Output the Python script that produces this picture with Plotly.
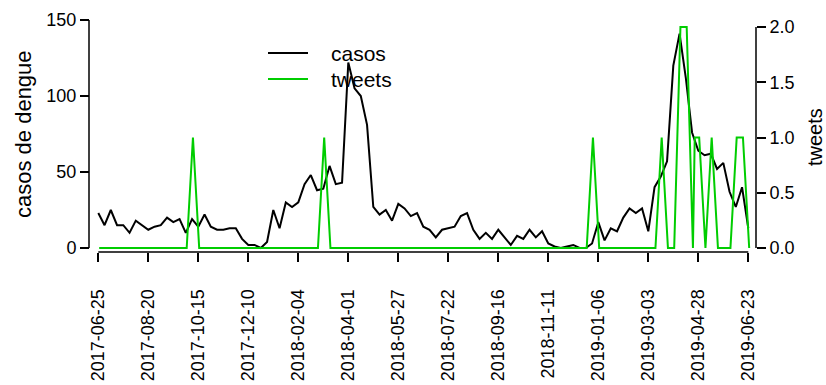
import pandas as pd
import plotly.graph_objects as go

# weekly dengue cases (Sundays, 2017-06-25 .. 2019-06-23)
casos = [23, 15, 25, 15, 15, 10, 18, 15, 12, 14,
         15, 20, 17, 19, 10, 19, 14, 22, 14, 12,
         12, 13, 13, 6, 2, 2, 0, 4, 25, 13,
         30, 27, 30, 42, 48, 38, 39, 54, 42, 43,
         122, 105, 100, 81, 27, 22, 25, 18, 29, 26,
         21, 23, 14, 12, 7, 12, 13, 14, 21, 23,
         12, 6, 10, 6, 12, 7, 2, 8, 6, 12,
         7, 11, 3, 1, 0, 1, 2, 0, 0, 3,
         17, 5, 13, 11, 20, 26, 23, 26, 11, 40,
         47, 57, 120, 141, 112, 76, 64, 61, 62, 52,
         56, 37, 27, 40, 13]
casos_dates = pd.date_range("2017-06-25", periods=len(casos), freq="7D")

# weekly tweets (Mondays) plus one extra mid-week count
tweets_weekly = [0] * 105
for k, v in {15: 1, 36: 1, 79: 1, 90: 1, 93: 2, 94: 2, 96: 1, 98: 1, 102: 1, 103: 1}.items():
    tweets_weekly[k] = v
tweet_dates = list(pd.date_range("2017-06-26", periods=105, freq="7D"))
tweets = list(tweets_weekly)
tweet_dates.insert(96, pd.Timestamp("2019-04-24"))
tweets.insert(96, 1)

tick_labels = ["2017-06-25", "2017-08-20", "2017-10-15", "2017-12-10",
               "2018-02-04", "2018-04-01", "2018-05-27", "2018-07-22",
               "2018-09-16", "2018-11-11", "2019-01-06", "2019-03-03",
               "2019-04-28", "2019-06-23"]

FONT = "Liberation Sans, Arial, Helvetica, sans-serif"
GREEN = "#00CD00"
W, H = 826, 385
L, R, T, B = 89, 70, 20, 133
plot_w = W - L - R
plot_h = H - T - B

# pixel layout of the x axis (first/last tick positions)
x_first, x_last = 98.3, 748.3
d0, d1 = pd.Timestamp(tick_labels[0]), pd.Timestamp(tick_labels[-1])
ppd = (x_last - x_first) / (d1 - d0).days
xr0 = d0 - pd.Timedelta(days=(x_first - L) / ppd)
xr1 = d1 + pd.Timedelta(days=(W - R - x_last) / ppd)

# vertical scales: 0 sits 4 px above the x axis line
y_zero_px = 248
gap = H - B - y_zero_px
y_ppu = (y_zero_px - T) / 150
y2_ppu = 110.5
y_range = [-gap / y_ppu, 150]
y2_range = [-gap / y2_ppu, (y_zero_px - T) / y2_ppu]


def px(xp):
    return (xp - L) / plot_w


def py(yp):
    return (H - B - yp) / plot_h


fig = go.Figure()
fig.add_trace(go.Scatter(x=casos_dates, y=casos, mode="lines", name="casos",
                         line=dict(color="black", width=2), yaxis="y"))
fig.add_trace(go.Scatter(x=tweet_dates, y=tweets, mode="lines", name="tweets",
                         line=dict(color=GREEN, width=2), yaxis="y2"))

tick = dict(ticks="outside", ticklen=9, tickwidth=1.5, tickcolor="black",
            showgrid=False, zeroline=False, showline=False, automargin=False,
            tickfont=dict(family=FONT, size=18, color="black"))

fig.update_layout(
    width=W, height=H,
    margin=dict(l=L, r=R, t=T, b=B, autoexpand=False),
    paper_bgcolor="white", plot_bgcolor="rgba(0,0,0,0)",
    font=dict(family=FONT, color="black"),
    showlegend=False,
    xaxis=dict(type="date", range=[xr0, xr1], domain=[0, 1],
               anchor="free", position=0,
               tickvals=list(pd.to_datetime(tick_labels)), ticktext=tick_labels,
               tickangle=-90, ticklabelstandoff=20, **tick),
    yaxis=dict(range=y_range, domain=[0, 1], anchor="free", position=0,
               tickvals=[0, 50, 100, 150], **tick),
    yaxis2=dict(range=y2_range, overlaying="y", side="right",
                anchor="free", position=1,
                tickvals=[0, 0.5, 1, 1.5, 2], tickformat=".1f", **tick),
)

# R-style axis lines spanning only the tick range
fig.add_shape(type="line", xref="paper", yref="y", x0=0, x1=0, y0=0, y1=150,
              line=dict(color="black", width=1.5))
fig.add_shape(type="line", xref="paper", yref="y2", x0=1, x1=1, y0=0, y1=2,
              line=dict(color="black", width=1.5))
fig.add_shape(type="line", xref="x", yref="paper", x0=d0, x1=d1, y0=0, y1=0,
              line=dict(color="black", width=1.5))

# legend drawn R-style
for name, color, yp in [("casos", "black", 53), ("tweets", GREEN, 79)]:
    fig.add_shape(type="line", xref="paper", yref="paper",
                  x0=px(268), x1=px(308), y0=py(yp), y1=py(yp),
                  line=dict(color=color, width=2))
    fig.add_annotation(text=name, showarrow=False, xref="paper", yref="paper",
                       x=px(329), y=py(yp), xanchor="left", yanchor="middle",
                       font=dict(family=FONT, size=21))

fig.add_annotation(text="casos de dengue", textangle=-90, showarrow=False,
                   xref="paper", yref="paper", x=px(23), y=py(134),
                   xanchor="center", yanchor="middle",
                   font=dict(family=FONT, size=22))
fig.add_annotation(text="tweets", textangle=-90, showarrow=False,
                   xref="paper", yref="paper", x=px(815), y=py(137),
                   xanchor="center", yanchor="middle",
                   font=dict(family=FONT, size=20))

fig.write_html("out.html", config={"displayModeBar": False},
               post_script="document.body.style.margin='0';"
                           "document.body.style.overflow='hidden';")
